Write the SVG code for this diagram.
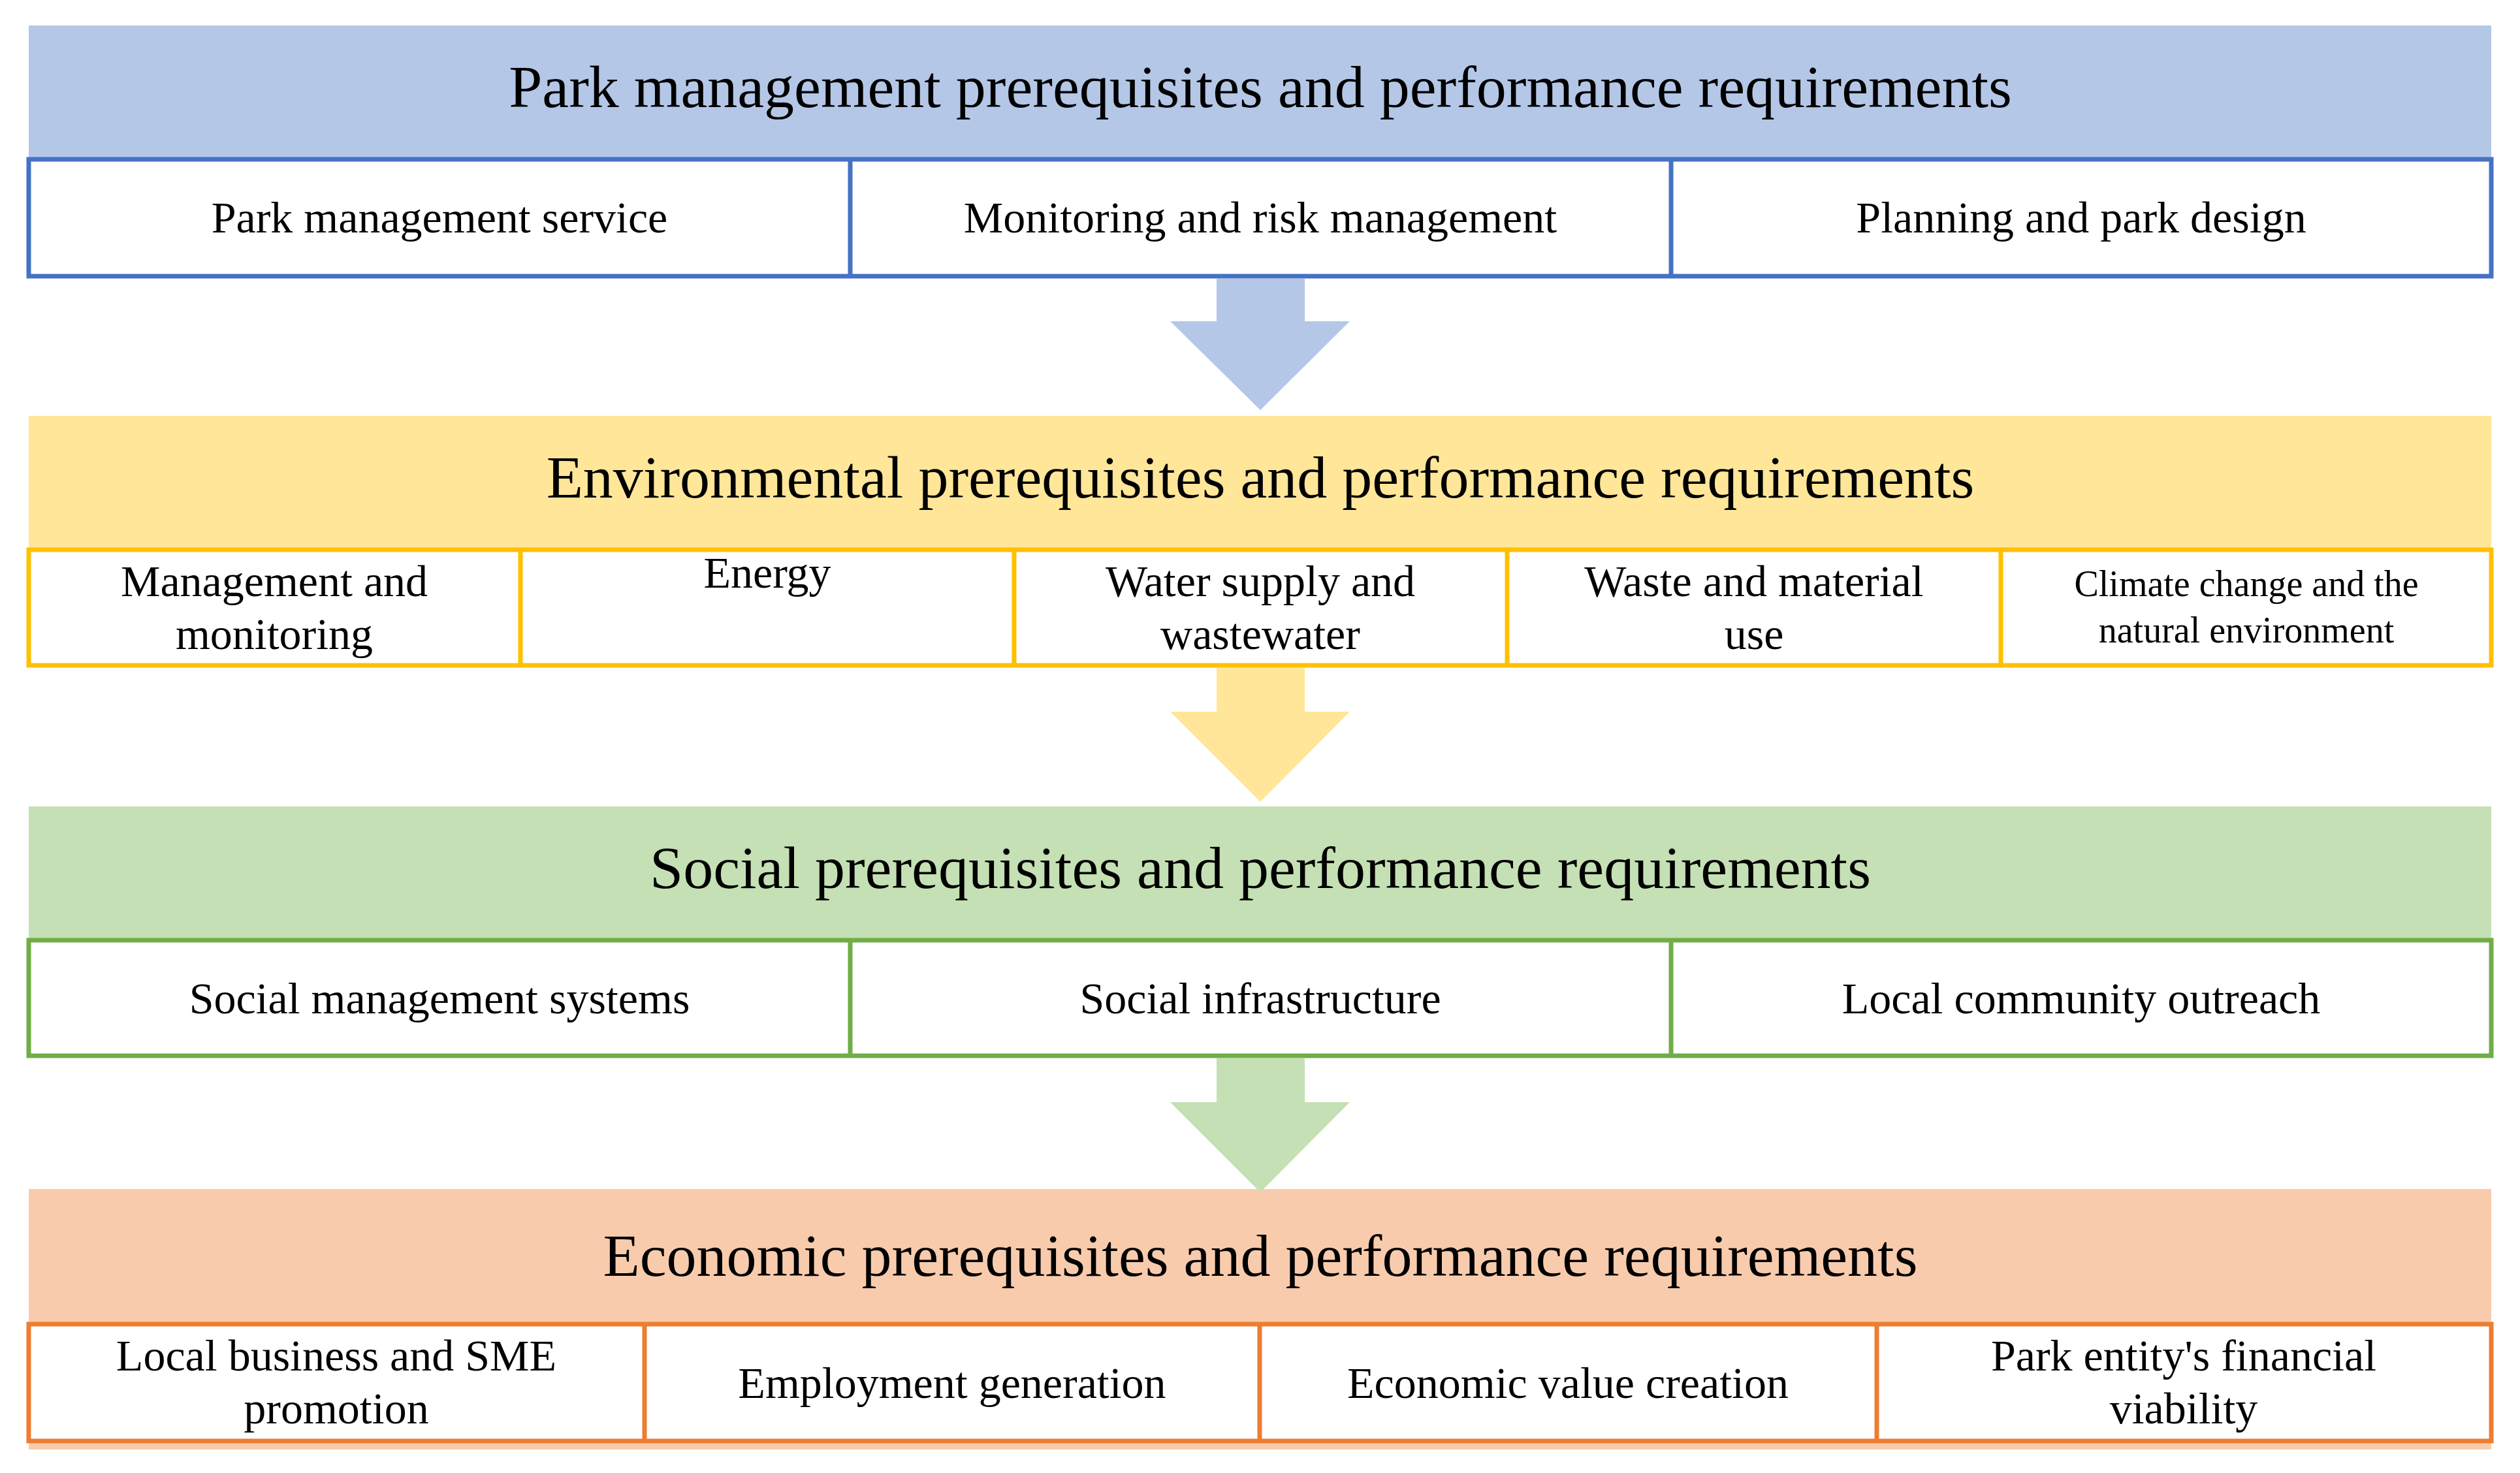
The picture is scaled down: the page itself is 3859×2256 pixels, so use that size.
<svg xmlns="http://www.w3.org/2000/svg" width="3859" height="2256" viewBox="0 0 3859 2256">
<style>
text{font-family:"Liberation Serif",serif;fill:#000;text-anchor:middle}
.t{font-size:92px}
.s{font-size:68px}
.c{font-size:56px}
.box{fill:#fff;stroke-width:7}
.b{stroke:#4472C4}.y{stroke:#FFC000}.g{stroke:#70AD47}.o{stroke:#ED7D31}
</style>
<rect width="3859" height="2256" fill="#fff"/>
<g id="park">
<rect x="44" y="39" width="3771" height="205" fill="#B4C7E7"/>
<text class="t" x="1930" y="164">Park management prerequisites and performance requirements</text>
<rect class="box b" x="44" y="244" width="3771" height="179"/>
<line class="b" x1="1302" y1="244" x2="1302" y2="423" stroke-width="7"/>
<line class="b" x1="2559" y1="244" x2="2559" y2="423" stroke-width="7"/>
<text class="s" x="673" y="356">Park management service</text>
<text class="s" x="1930" y="356">Monitoring and risk management</text>
<text class="s" x="3187" y="356">Planning and park design</text>
</g>
<g id="env">
<rect x="44" y="637" width="3771" height="205" fill="#FFE699"/>
<text class="t" x="1930" y="762">Environmental prerequisites and performance requirements</text>
<rect class="box y" x="44" y="842" width="3771" height="177"/>
<line class="y" x1="797" y1="842" x2="797" y2="1019" stroke-width="7"/>
<line class="y" x1="1553" y1="842" x2="1553" y2="1019" stroke-width="7"/>
<line class="y" x1="2308" y1="842" x2="2308" y2="1019" stroke-width="7"/>
<line class="y" x1="3064" y1="842" x2="3064" y2="1019" stroke-width="7"/>
<text class="s" x="420" y="913">Management and</text>
<text class="s" x="420" y="994">monitoring</text>
<text class="s" x="1175" y="900">Energy</text>
<text class="s" x="1930" y="913">Water supply and</text>
<text class="s" x="1930" y="994">wastewater</text>
<text class="s" x="2686" y="913">Waste and material</text>
<text class="s" x="2686" y="994">use</text>
<text class="c" x="3440" y="913">Climate change and the</text>
<text class="c" x="3440" y="984">natural environment</text>
</g>
<g id="social">
<rect x="44" y="1235" width="3771" height="205" fill="#C5E0B4"/>
<text class="t" x="1930" y="1360">Social prerequisites and performance requirements</text>
<rect class="box g" x="44" y="1440" width="3771" height="177"/>
<line class="g" x1="1302" y1="1440" x2="1302" y2="1617" stroke-width="7"/>
<line class="g" x1="2559" y1="1440" x2="2559" y2="1617" stroke-width="7"/>
<text class="s" x="673" y="1552">Social management systems</text>
<text class="s" x="1930" y="1552">Social infrastructure</text>
<text class="s" x="3187" y="1552">Local community outreach</text>
</g>
<g id="econ">
<rect x="44" y="1821" width="3771" height="399" fill="#F8CBAD"/>
<text class="t" x="1930" y="1954">Economic prerequisites and performance requirements</text>
<rect class="box o" x="44" y="2028" width="3771" height="179"/>
<line class="o" x1="987" y1="2028" x2="987" y2="2207" stroke-width="7"/>
<line class="o" x1="1929" y1="2028" x2="1929" y2="2207" stroke-width="7"/>
<line class="o" x1="2874" y1="2028" x2="2874" y2="2207" stroke-width="7"/>
<text class="s" x="515" y="2099">Local business and SME</text>
<text class="s" x="515" y="2180">promotion</text>
<text class="s" x="1458" y="2141">Employment generation</text>
<text class="s" x="2401" y="2141">Economic value creation</text>
<text class="s" x="3344" y="2099">Park entity's financial</text>
<text class="s" x="3344" y="2180">viability</text>
</g>
<g id="connectors">
<polygon fill="#B4C7E7" points="1863,427 1998,427 1998,492 2067,492 1930,628 1792,492 1863,492"/>
<polygon fill="#FFE699" points="1863,1023 1998,1023 1998,1090 2067,1090 1930,1228 1792,1090 1863,1090"/>
<polygon fill="#C5E0B4" points="1863,1621 1998,1621 1998,1688 2067,1688 1930,1826 1792,1688 1863,1688"/>
</g>
</svg>
